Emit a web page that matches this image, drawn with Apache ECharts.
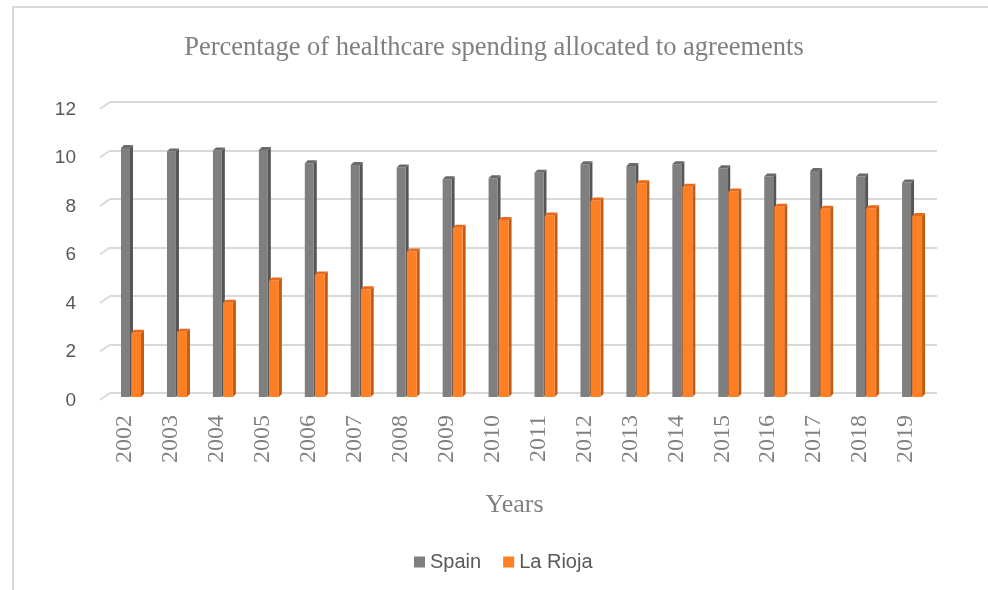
<!DOCTYPE html>
<html>
<head>
<meta charset="utf-8">
<script src="https://cdn.jsdelivr.net/npm/echarts@6/dist/echarts.min.js"></script>
<style>html,body{margin:0;padding:0;background:#fff;}#c{width:988px;height:590px;}</style>
</head>
<body>
<div id="c"></div>
<script>
const years = ['2002','2003','2004','2005','2006','2007','2008','2009','2010','2011','2012','2013','2014','2015','2016','2017','2018','2019'];
const spain = [10.27, 10.12, 10.16, 10.19, 9.64, 9.57, 9.46, 8.98, 9.02, 9.25, 9.60, 9.53, 9.60, 9.43, 9.09, 9.32, 9.09, 8.85];
const laRioja = [2.65, 2.69, 3.89, 4.80, 5.05, 4.44, 6.00, 6.98, 7.30, 7.48, 8.10, 8.81, 8.67, 8.47, 7.85, 7.76, 7.78, 7.46];
const yTicks = [0, 2, 4, 6, 8, 10, 12];

const chart = echarts.init(document.getElementById('c'), null, {renderer: 'canvas'});

function make3D(offsetFrac, widthFrac, front, side, top) {
  return function (params, api) {
    const i = api.value(0), v = api.value(1);
    const bw = api.size([1, 0])[0];
    const c = api.coord([i, v]);
    const b = api.coord([i, 0]);
    const drop = 4, d = 3;
    const x0 = c[0] + offsetFrac * bw;
    const x1 = x0 + widthFrac * bw;
    const yt = c[1] + drop, yb = b[1] + drop;
    return {
      type: 'group',
      children: [
        {type: 'polygon', shape: {points: [[x1, yt], [x1 + d, yt - d], [x1 + d, yb - d], [x1, yb]]}, style: {fill: side}},
        {type: 'rect', shape: {x: x0, y: yt, width: x1 - x0, height: yb - yt}, style: {fill: front}},
        {type: 'polygon', shape: {points: [[x0, yt], [x0 + d, yt - d], [x1 + d, yt - d], [x1, yt]]}, style: {fill: top}}
      ]
    };
  };
}

function renderStub(params, api) {
  const y = api.coord([0, api.value(0)])[1];
  const x = params.coordSys.x;
  return {type: 'line', shape: {x1: x - 10, y1: y + 7, x2: x, y2: y}, style: {stroke: '#d9d9d9', lineWidth: 2}};
}

const option = {
  animation: false,
  backgroundColor: '#fff',
  title: {
    text: 'Percentage of healthcare spending allocated to agreements',
    left: 'center', top: 30,
    textStyle: {fontFamily: 'Liberation Serif', fontSize: 26.5, fontWeight: 'normal', color: '#808080'}
  },
  legend: {
    left: 409, top: 547,
    itemWidth: 11, itemHeight: 11, itemGap: 22,
    icon: 'rect',
    textStyle: {fontFamily: 'Liberation Sans', fontSize: 20, color: '#595959', padding: [0, 0, 0, 0]},
    data: ['Spain', 'La Rioja']
  },
  grid: {left: 110, right: 51, top: 102, bottom: 197},
  xAxis: {
    type: 'category',
    data: years,
    name: 'Years',
    nameLocation: 'middle',
    nameGap: 99,
    nameTextStyle: {fontFamily: 'Liberation Serif', fontSize: 26, color: '#808080', padding: [0, 18, 0, 0]},
    axisLine: {show: false},
    axisTick: {show: false},
    axisLabel: {rotate: 90, margin: 22, fontFamily: 'Liberation Serif', fontSize: 24, color: '#808080',
      verticalAlign: 'bottom', lineHeight: 16, interval: 0}
  },
  yAxis: {
    type: 'value', min: 0, max: 12, interval: 2,
    axisLine: {show: false}, axisTick: {show: false},
    axisLabel: {margin: 34, fontFamily: 'Liberation Sans', fontSize: 19, color: '#595959',
      verticalAlign: 'top', lineHeight: 15,
      formatter: function (v) { return yTicks.indexOf(v) >= 0 ? String(v) : ''; }},
    splitLine: {lineStyle: {color: '#d9d9d9', width: 2}}
  },
  graphic: [
    {type: 'rect', shape: {x: 13, y: 7, width: 1000, height: 600}, style: {fill: 'none', stroke: '#d9d9d9', lineWidth: 2}, silent: true, z: -1}
  ],
  series: [
    {
      name: 'gridStub', type: 'custom', silent: true,
      renderItem: renderStub,
      encode: {y: 0},
      data: yTicks.map(v => [v]),
      z: 1
    },
    {
      name: 'Spain', type: 'custom',
      itemStyle: {color: '#7f7f7f'},
      renderItem: make3D(-0.26, 0.195, '#7f7f7f', '#555555', '#6a6a6a'),
      encode: {x: 0, y: 1},
      data: spain.map((v, i) => [i, v])
    },
    {
      name: 'La Rioja', type: 'custom',
      itemStyle: {color: '#ff7f24'},
      renderItem: make3D(-0.04, 0.215, '#ff7f24', '#c55a11', '#e8691a'),
      encode: {x: 0, y: 1},
      data: laRioja.map((v, i) => [i, v])
    }
  ]
};
chart.setOption(option);
</script>
</body>
</html>
